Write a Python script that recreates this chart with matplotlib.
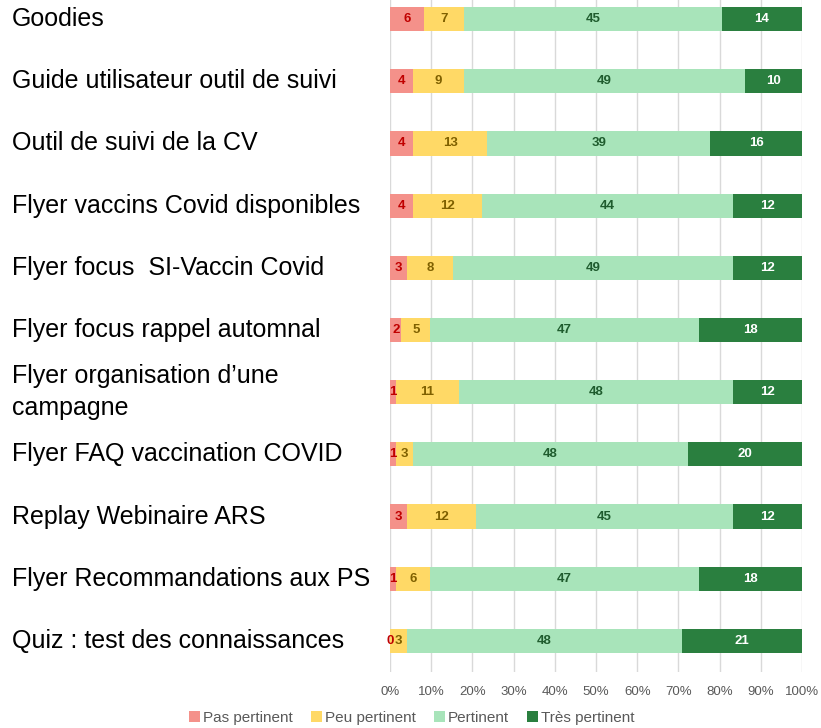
import matplotlib
matplotlib.use("Agg")
import matplotlib.pyplot as plt
import numpy as np

plt.rcParams['font.family'] = ['Liberation Sans', 'DejaVu Sans']

categories = [
    "Goodies",
    "Guide utilisateur outil de suivi",
    "Outil de suivi de la CV",
    "Flyer vaccins Covid disponibles",
    "Flyer focus  SI-Vaccin Covid",
    "Flyer focus rappel automnal",
    "Flyer organisation d\u2019une\ncampagne",
    "Flyer FAQ vaccination COVID",
    "Replay Webinaire ARS",
    "Flyer Recommandations aux PS",
    "Quiz : test des connaissances",
]
series_names = ["Pas pertinent", "Peu pertinent", "Pertinent", "Très pertinent"]
pas = [6, 4, 4, 4, 3, 2, 1, 1, 3, 1, 0]
peu = [7, 9, 13, 12, 8, 5, 11, 3, 12, 6, 3]
pert = [45, 49, 39, 44, 49, 47, 48, 48, 45, 47, 48]
tres = [14, 10, 16, 12, 12, 18, 12, 20, 12, 18, 21]
xticks = [0, 10, 20, 30, 40, 50, 60, 70, 80, 90, 100]

colors = ["#F4918A", "#FFD966", "#A8E4BA", "#2A7F3F"]
text_colors = ["#C00000", "#7F6000", "#1F5C2E", "#FFFFFF"]

data = np.array([pas, peu, pert, tres], dtype=float)
totals = data.sum(axis=0)
pct = data / totals * 100

fig = plt.figure(figsize=(8.21, 7.28), dpi=100)
ax = fig.add_axes([390/821, 56/728, 412/821, 684/728])

n = len(categories)
y = np.arange(n)
left = np.zeros(n)
handles = []
for i in range(4):
    bars = ax.barh(y, pct[i], left=left, height=0.39, color=colors[i],
                   label=series_names[i], zorder=3)
    handles.append(bars)
    for j in range(n):
        cx = left[j] + pct[i][j] / 2
        ax.text(cx, y[j], f"{int(data[i][j])}", ha="center", va="center",
                fontsize=9.5, fontweight="bold", color=text_colors[i], zorder=4)
    left += pct[i]

ax.set_ylim(n - 0.5, -0.5)
ax.set_xlim(0, 100)
ax.set_xticks(xticks)
ax.set_xticklabels([f"{t}%" for t in xticks], fontsize=9.5, color="#595959")
ax.tick_params(axis="x", length=0, pad=10)
ax.set_yticks(y)
ax.set_yticklabels([])
ax.tick_params(axis="y", length=0)
for s in ax.spines.values():
    s.set_visible(False)
ax.grid(axis="x", color="#D9D9D9", linewidth=1, zorder=0)

for j in range(n):
    ax.text(-378/412*100, y[j], categories[j], ha="left", va="center",
            fontsize=18, color="#000000", linespacing=1.45,
            transform=ax.transData, clip_on=False)

fig.legend(handles=handles, labels=series_names, loc="center",
           bbox_to_anchor=(412/821, 1 - 718/728), ncol=4, frameon=False,
           fontsize=11, handlelength=0.7, handleheight=0.7, handletextpad=0.2,
           columnspacing=1.2, labelcolor="#595959")

fig.savefig("out.png", dpi=100)
